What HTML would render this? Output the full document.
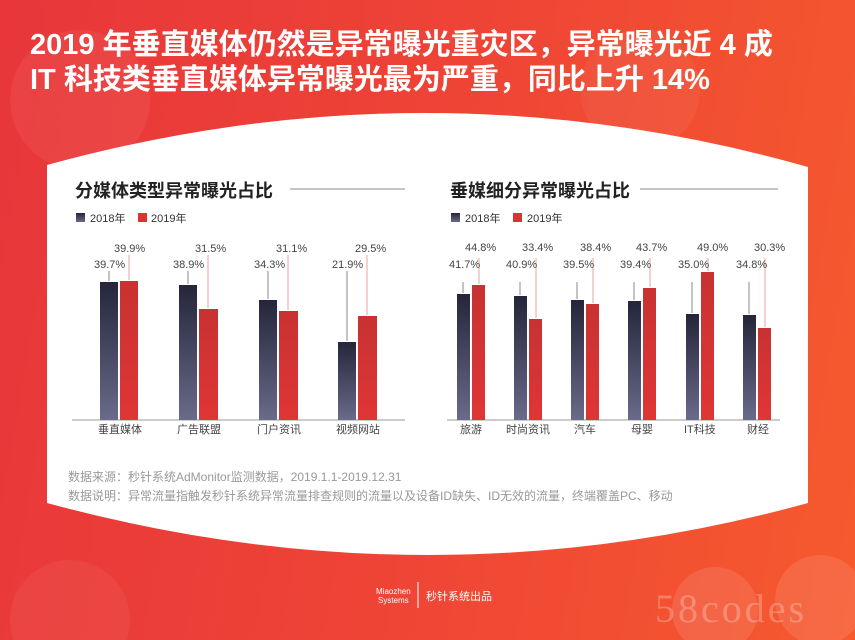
<!DOCTYPE html>
<html style="overflow:hidden"><head><meta charset="utf-8"><style>
body{margin:0;width:855px;height:640px;overflow:hidden;position:relative;font-family:"Liberation Sans","Noto Sans CJK SC",sans-serif;}
.bg{position:absolute;left:0;top:0;width:855px;height:640px;background:linear-gradient(100deg,#e8363a 0%,#ee4436 50%,#f65a2e 100%);}
.h{position:absolute;left:30px;color:#fff;font-weight:bold;font-size:29px;line-height:34px;white-space:nowrap;}
.n{position:absolute;font-size:12px;color:#999;white-space:nowrap}
</style></head><body>
<div class="bg"></div>
<svg style="position:absolute;left:0;top:0" width="855" height="640">
<circle cx="80" cy="100" r="70" fill="#fff" opacity="0.06"/>
<circle cx="640" cy="90" r="60" fill="#fff" opacity="0.05"/>
<circle cx="715" cy="610" r="43" fill="#fff" opacity="0.1"/>
<circle cx="820" cy="600" r="45" fill="#fff" opacity="0.1"/>
<circle cx="70" cy="620" r="60" fill="#fff" opacity="0.05"/>
<path d="M47 165 Q430 60 808 167 L808 503 Q430 607 47 503 Z" fill="#fff"/>
</svg>
<div class="h" style="top:28px">2019 年垂直媒体仍然是异常曝光重灾区，异常曝光近 4 成</div>
<div class="h" style="top:63px">IT 科技类垂直媒体异常曝光最为严重，同比上升 14%</div>
<svg style="position:absolute;left:0;top:0" width="855" height="640" font-family="Liberation Sans, Noto Sans CJK SC, sans-serif">
<defs>
<linearGradient id="dk" x1="0" y1="0" x2="0" y2="1"><stop offset="0" stop-color="#25253a"/><stop offset="1" stop-color="#6a6a8a"/></linearGradient>
<linearGradient id="rd" x1="0" y1="0" x2="0" y2="1"><stop offset="0" stop-color="#c83232"/><stop offset="1" stop-color="#e03535"/></linearGradient>
</defs>
<text x="75" y="197" font-size="18" font-weight="bold" fill="#222">分媒体类型异常曝光占比</text>
<line x1="290" y1="189" x2="405" y2="189" stroke="#888" stroke-width="1"/>
<rect x="76" y="213" width="9" height="9" fill="url(#dk)"/><text x="90" y="222" font-size="11" fill="#333">2018年</text>
<rect x="138" y="213" width="9" height="9" fill="#d93434"/><text x="151" y="222" font-size="11" fill="#333">2019年</text>
<text x="450" y="197" font-size="18" font-weight="bold" fill="#222">垂媒细分异常曝光占比</text>
<line x1="640" y1="189" x2="778" y2="189" stroke="#888" stroke-width="1"/>
<rect x="451" y="213" width="9" height="9" fill="url(#dk)"/><text x="465" y="222" font-size="11" fill="#333">2018年</text>
<rect x="513" y="213" width="9" height="9" fill="#d93434"/><text x="527" y="222" font-size="11" fill="#333">2019年</text>
<line x1="72" y1="420" x2="405" y2="420" stroke="#999"/>
<line x1="447" y1="420" x2="780" y2="420" stroke="#999"/>
<g font-size="11" fill="#444">
<rect x="100" y="282" width="18" height="138" fill="url(#dk)"/><rect x="120" y="281" width="18" height="139" fill="url(#rd)"/>
<line x1="109" y1="271" x2="109" y2="281" stroke="#888"/><line x1="129" y1="255" x2="129" y2="280" stroke="#e8a0a0"/>
<text x="94" y="268">39.7%</text><text x="114" y="252">39.9%</text>
<rect x="179" y="285" width="18" height="135" fill="url(#dk)"/><rect x="199" y="309" width="19" height="111" fill="url(#rd)"/>
<line x1="188" y1="271" x2="188" y2="284" stroke="#888"/><line x1="208" y1="255" x2="208" y2="308" stroke="#e8a0a0"/>
<text x="173" y="268">38.9%</text><text x="195" y="252">31.5%</text>
<rect x="259" y="300" width="18" height="120" fill="url(#dk)"/><rect x="279" y="311" width="19" height="109" fill="url(#rd)"/>
<line x1="268" y1="271" x2="268" y2="299" stroke="#888"/><line x1="288" y1="255" x2="288" y2="310" stroke="#e8a0a0"/>
<text x="254" y="268">34.3%</text><text x="276" y="252">31.1%</text>
<rect x="338" y="342" width="18" height="78" fill="url(#dk)"/><rect x="358" y="316" width="19" height="104" fill="url(#rd)"/>
<line x1="347" y1="271" x2="347" y2="341" stroke="#888"/><line x1="367" y1="255" x2="367" y2="315" stroke="#e8a0a0"/>
<text x="332" y="268">21.9%</text><text x="355" y="252">29.5%</text>
<text x="98" y="433">垂直媒体</text><text x="177" y="433">广告联盟</text><text x="257" y="433">门户资讯</text><text x="336" y="433">视频网站</text>
<rect x="457" y="294" width="13" height="126" fill="url(#dk)"/><rect x="472" y="285" width="13" height="135" fill="url(#rd)"/>
<line x1="463" y1="282" x2="463" y2="293" stroke="#888"/><line x1="479" y1="258" x2="479" y2="284" stroke="#e8a0a0"/>
<text x="449" y="268">41.7%</text><text x="465" y="251">44.8%</text>
<rect x="514" y="296" width="13" height="124" fill="url(#dk)"/><rect x="529" y="319" width="13" height="101" fill="url(#rd)"/>
<line x1="520" y1="282" x2="520" y2="295" stroke="#888"/><line x1="536" y1="258" x2="536" y2="318" stroke="#e8a0a0"/>
<text x="506" y="268">40.9%</text><text x="522" y="251">33.4%</text>
<rect x="571" y="300" width="13" height="120" fill="url(#dk)"/><rect x="586" y="304" width="13" height="116" fill="url(#rd)"/>
<line x1="577" y1="282" x2="577" y2="299" stroke="#888"/><line x1="593" y1="258" x2="593" y2="303" stroke="#e8a0a0"/>
<text x="563" y="268">39.5%</text><text x="580" y="251">38.4%</text>
<rect x="628" y="301" width="13" height="119" fill="url(#dk)"/><rect x="643" y="288" width="13" height="132" fill="url(#rd)"/>
<line x1="634" y1="282" x2="634" y2="300" stroke="#888"/><line x1="650" y1="258" x2="650" y2="287" stroke="#e8a0a0"/>
<text x="620" y="268">39.4%</text><text x="636" y="251">43.7%</text>
<rect x="686" y="314" width="13" height="106" fill="url(#dk)"/><rect x="701" y="272" width="13" height="148" fill="url(#rd)"/>
<line x1="692" y1="282" x2="692" y2="313" stroke="#888"/><line x1="708" y1="258" x2="708" y2="271" stroke="#e8a0a0"/>
<text x="678" y="268">35.0%</text><text x="697" y="251">49.0%</text>
<rect x="743" y="315" width="13" height="105" fill="url(#dk)"/><rect x="758" y="328" width="13" height="92" fill="url(#rd)"/>
<line x1="749" y1="282" x2="749" y2="314" stroke="#888"/><line x1="765" y1="258" x2="765" y2="327" stroke="#e8a0a0"/>
<text x="736" y="268">34.8%</text><text x="754" y="251">30.3%</text>
<text x="460" y="433">旅游</text><text x="506" y="433">时尚资讯</text><text x="574" y="433">汽车</text><text x="631" y="433">母婴</text><text x="684" y="433">IT科技</text><text x="747" y="433">财经</text>
</g>
<text x="376" y="594" font-size="8" fill="#fff">Miaozhen</text><text x="378" y="603" font-size="8" fill="#fff">Systems</text>
<line x1="418" y1="582" x2="418" y2="608" stroke="#fff" stroke-width="1"/>
<text x="426" y="600" font-size="11" fill="#fff">秒针系统出品</text>
<text x="655" y="622" font-size="40" font-family="Liberation Serif,serif" fill="#fff" opacity="0.25" letter-spacing="3">58codes</text>
</svg>
<div class="n" style="left:68px;top:468px">数据来源：秒针系统AdMonitor监测数据，2019.1.1-2019.12.31</div>
<div class="n" style="left:68px;top:487px">数据说明：异常流量指触发秒针系统异常流量排查规则的流量以及设备ID缺失、ID无效的流量，终端覆盖PC、移动</div>
</body></html>
